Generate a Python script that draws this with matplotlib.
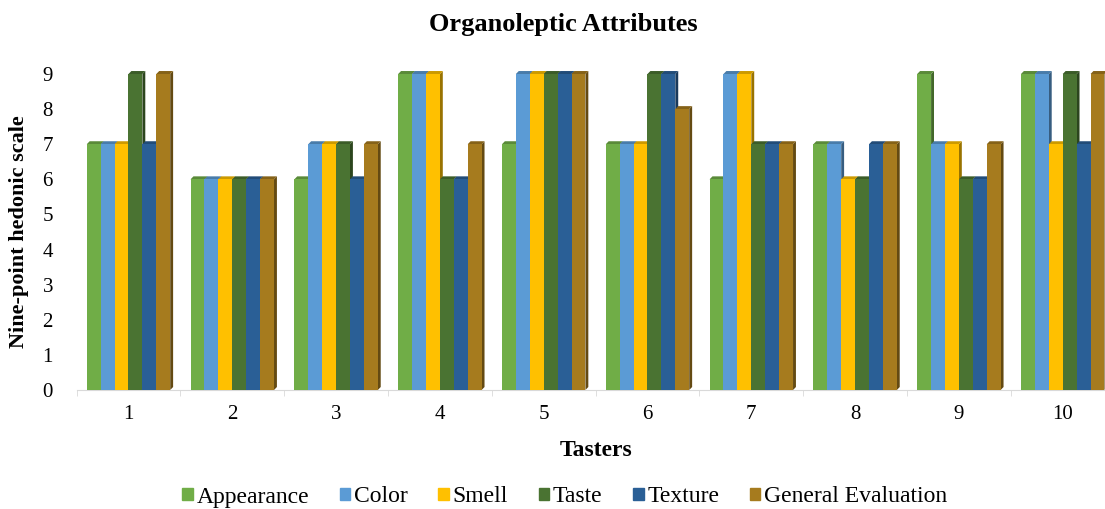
import numpy as np
import matplotlib.pyplot as plt
from matplotlib.patches import Polygon
from matplotlib.colors import to_rgb

plt.rcParams['font.family'] = ['Liberation Serif', 'DejaVu Serif']

tasters = ['1', '2', '3', '4', '5', '6', '7', '8', '9', '10']
appearance = [7, 6, 6, 9, 7, 7, 6, 7, 9, 9]
color = [7, 6, 7, 9, 9, 7, 9, 7, 7, 9]
smell = [7, 6, 7, 9, 9, 7, 9, 6, 7, 7]
taste = [9, 6, 7, 6, 9, 9, 7, 6, 6, 9]
texture = [7, 6, 6, 6, 9, 9, 7, 7, 6, 7]
general = [9, 6, 7, 7, 9, 8, 7, 7, 7, 9]

series = [appearance, color, smell, taste, texture, general]
names = ['Appearance', 'Color', 'Smell', 'Taste', 'Texture', 'General Evaluation']
colors = ['#70AD47', '#5B9BD5', '#FFC000', '#4A7332', '#2A5F96', '#A67B1E']


def shade(c, f):
    r, g, b = to_rgb(c)
    return (r * f, g * f, b * f)


fig = plt.figure(figsize=(11.05, 5.09), dpi=100)
ax = fig.add_axes([0.0693, 0.2338, 0.9394, 0.6208])

x = np.arange(len(tasters))
w = 0.134
dx = 0.028  # fake 3D depth
dy = 0.085

for i, (vals, c) in enumerate(zip(series, colors)):
    xs = x - 2.5 * w + i * w
    ax.bar(xs, vals, width=w, color=c, zorder=3, clip_on=False)
    for xi, v in zip(xs, vals):
        side = Polygon([(xi + w / 2, 0), (xi + w / 2 + dx, dy), (xi + w / 2 + dx, v + dy), (xi + w / 2, v)],
                       closed=True, facecolor=shade(c, 0.6), edgecolor='none', zorder=2, clip_on=False)
        top = Polygon([(xi - w / 2, v), (xi - w / 2 + dx, v + dy), (xi + w / 2 + dx, v + dy), (xi + w / 2, v)],
                      closed=True, facecolor=shade(c, 0.8), edgecolor='none', zorder=2, clip_on=False)
        ax.add_patch(side)
        ax.add_patch(top)

ax.set_xlim(-0.5, 9.5)
ax.set_ylim(0, 9)
ax.set_xticks(x)
ax.set_xticklabels(tasters, fontsize=15)
ax.set_xticks(np.arange(-0.5, 10, 1), minor=True)
ax.set_yticks(range(10))
ax.tick_params(axis='y', length=0, pad=17, labelsize=15)
ax.tick_params(axis='x', which='major', length=0, pad=11)
ax.tick_params(axis='x', which='minor', length=4, color='#d9d9d9')

for s in ['top', 'right', 'left']:
    ax.spines[s].set_visible(False)
ax.spines['bottom'].set_color('#d9d9d9')

ax.set_ylabel('Nine-point hedonic scale', fontsize=16, fontweight='bold')
ax.yaxis.set_label_coords(-0.046, 0.5)
ax.set_xlabel('Tasters', fontsize=17, fontweight='bold')
ax.xaxis.set_label_coords(0.5, -0.158)
fig.text(0.51, 1 - 25 / 509, 'Organoleptic Attributes', ha='center', va='center',
         fontsize=19, fontweight='bold')

handles = [plt.Rectangle((0, 0), 1, 1, color=c) for c in colors]
fig.legend(handles, names, loc='center', bbox_to_anchor=(0.511, 1 - 497 / 509), ncol=6,
           frameon=False, fontsize=17, handlelength=0.45, handleheight=0.45,
           handletextpad=0.15, columnspacing=1.3)

plt.savefig('out.png', dpi=100)
